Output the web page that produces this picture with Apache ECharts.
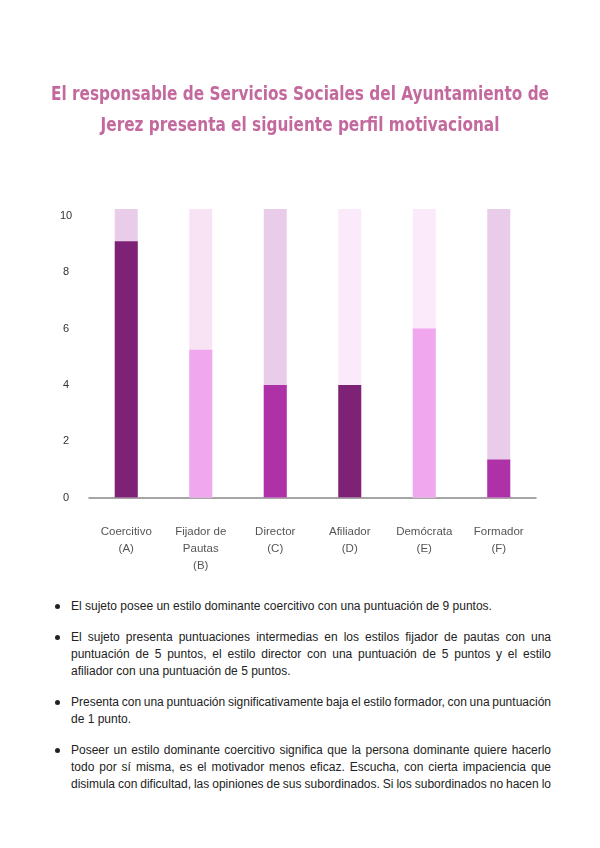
<!DOCTYPE html>
<html>
<head>
<meta charset="utf-8">
<script src="https://cdn.jsdelivr.net/npm/echarts@6/dist/echarts.min.js"></script>
<style>
  html, body { margin: 0; padding: 0; background: #fff; overflow: hidden; }
  #chart { position: absolute; left: 0; top: 0; width: 600px; height: 590px; }
  #title {
    position: absolute; left: -300px; top: 78px; width: 1200px;
    text-align: center; transform-origin: 600px 0;
    font-family: 'DejaVu Sans', sans-serif; font-weight: bold;
    font-size: 20px; line-height: 31px; color: #C4699E; white-space: nowrap;
  }
  #title span { display: inline-block; }
  #notes {
    position: absolute; left: 0; top: 598px; width: 600px;
    font-family: 'Liberation Sans', Arial, sans-serif; font-size: 12px;
    line-height: 17px; color: #222;
  }
  #notes .item { position: relative; margin: 0 49px 14px 71px; }
  #notes .item::before {
    content: ''; position: absolute; left: -16px; top: 6px;
    width: 5px; height: 5px; border-radius: 50%; background: #222;
  }
  #notes .ln { display: block; white-space: nowrap; text-align: justify; text-align-last: justify; }
  #notes .ln.end { text-align-last: left; }
  #notes .ln.tight { word-spacing: -0.7px; }
</style>
</head>
<body>
<div id="chart"></div>
<div id="title"></div>
<div id="notes"></div>
<script>
const titleLines = [
  'El responsable de Servicios Sociales del Ayuntamiento de',
  'Jerez presenta el siguiente perfil motivacional',
];
const categories = [
  'Coercitivo\n(A)',
  'Fijador de\nPautas\n(B)',
  'Director\n(C)',
  'Afiliador\n(D)',
  'Demócrata\n(E)',
  'Formador\n(F)',
];
const scores = [9.1, 5.25, 4, 4, 6, 1.35];
const fullScale = [10.25, 10.25, 10.25, 10.25, 10.25, 10.25];
const yTicks = [0, 2, 4, 6, 8, 10];

const barColors = ['#7D2274', '#F1A7EE', '#AE31A8', '#7D2274', '#F1A7EE', '#AE31A8'];
const trackColors = ['#E9CCE9', '#F8E3F5', '#E9CCE9', '#FAEAFA', '#FAEAFA', '#E9CCE9'];

// [text, cls] per printed line
const notes = [
  [['El sujeto posee un estilo dominante coercitivo con una puntuación de 9 puntos.', 'end']],
  [
    ['El sujeto presenta puntuaciones intermedias en los estilos fijador de pautas con una', ''],
    ['puntuación de 5 puntos, el estilo director con una puntuación de 5 puntos y el estilo', ''],
    ['afiliador con una puntuación de 5 puntos.', 'end'],
  ],
  [
    ['Presenta con una puntuación significativamente baja el estilo formador, con una puntuación', 'tight'],
    ['de 1 punto.', 'end'],
  ],
  [
    ['Poseer un estilo dominante coercitivo significa que la persona dominante quiere hacerlo', ''],
    ['todo por sí misma, es el motivador menos eficaz. Escucha, con cierta impaciencia que', ''],
    ['disimula con dificultad, las opiniones de sus subordinados. Si los subordinados no hacen lo', 'tight'],
  ],
];

// title: squeeze the bold face so the first line spans ~498px like the condensed original
const titleEl = document.getElementById('title');
titleEl.innerHTML = titleLines.map(t => `<span>${t}</span>`).join('<br>');
const firstW = titleEl.querySelector('span').getBoundingClientRect().width;
titleEl.style.transform = `scaleX(${(498 / firstW).toFixed(4)})`;

document.getElementById('notes').innerHTML = notes
  .map(lines => `<div class="item">${lines
    .map(([t, cls]) => `<span class="ln ${cls}">${t}</span>`)
    .join('')}</div>`)
  .join('');

const chart = echarts.init(document.getElementById('chart'));
const option = {
  animation: false,
  grid: {
    left: 89,
    right: 64,
    top: 209,
    bottom: 92.5,
  },
  xAxis: {
    type: 'category',
    data: categories,
    axisTick: { show: false },
    axisLine: { lineStyle: { color: '#888', width: 1.5 } },
    axisLabel: {
      interval: 0,
      margin: 26,
      fontSize: 11.5,
      lineHeight: 17,
      color: '#555',
      fontFamily: "'Liberation Sans', Arial, sans-serif",
    },
  },
  yAxis: {
    type: 'value',
    min: 0,
    max: 10.25,
    interval: 2,
    axisLine: { show: false },
    axisTick: { show: false },
    splitLine: { show: false },
    axisLabel: {
      align: 'center',
      margin: 23,
      fontSize: 11,
      color: '#333',
      fontFamily: "'Liberation Sans', Arial, sans-serif",
      formatter: v => (yTicks.includes(v) ? String(v) : ''),
    },
  },
  series: [
    {
      type: 'bar',
      barWidth: 23,
      barGap: '-100%',
      silent: true,
      data: fullScale.map((v, i) => ({ value: v, itemStyle: { color: trackColors[i] } })),
    },
    {
      type: 'bar',
      barWidth: 23,
      data: scores.map((v, i) => ({ value: v, itemStyle: { color: barColors[i] } })),
    },
  ],
};
chart.setOption(option);
</script>
</body>
</html>
